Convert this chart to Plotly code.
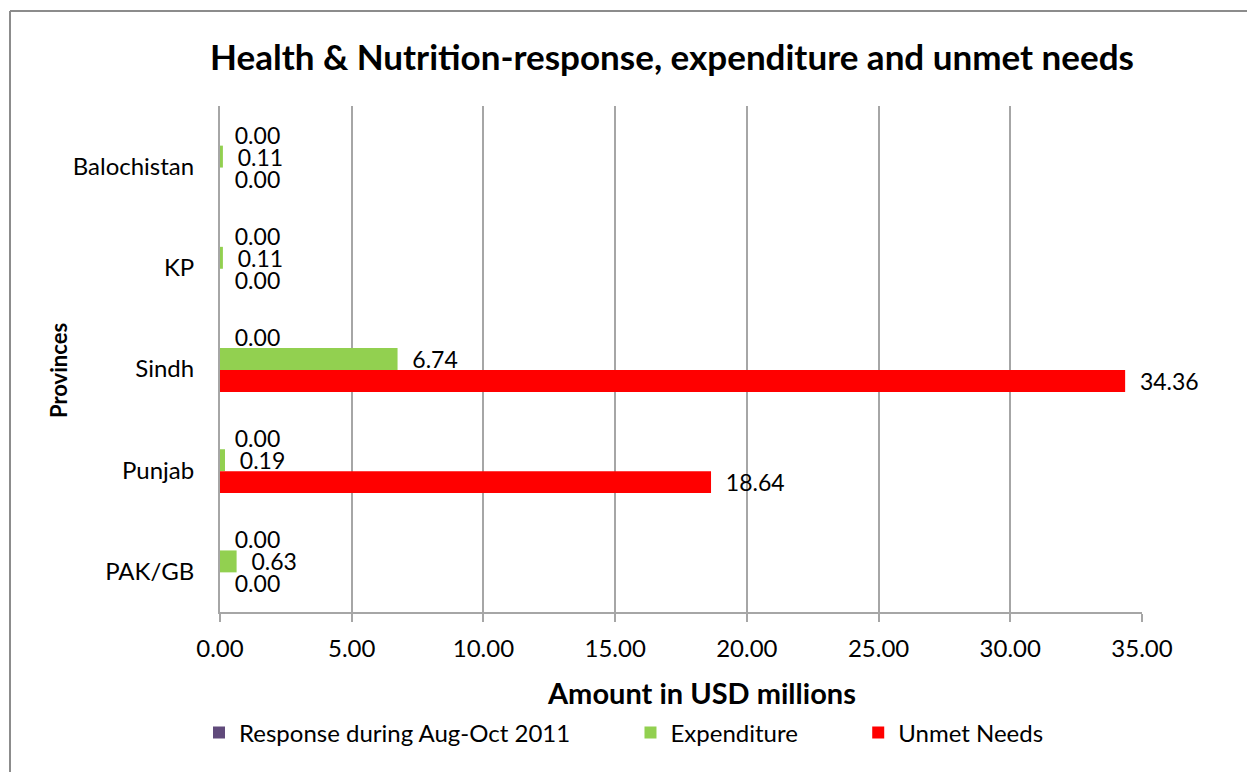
import plotly.graph_objects as go

# ---- data ----
provinces = ["Balochistan", "KP", "Sindh", "Punjab", "PAK/GB"]
response = [0.00, 0.00, 0.00, 0.00, 0.00]
expenditure = [0.11, 0.11, 6.74, 0.19, 0.63]
unmet_needs = [0.00, 0.00, 34.36, 18.64, 0.00]
series_names = ["Response during Aug-Oct 2011", "Expenditure", "Unmet Needs"]
series_colors = ["#604A7B", "#92D050", "#FF0000"]
x_ticks = [0, 5, 10, 15, 20, 25, 30, 35]

W, H = 1247, 772
L, R, T, B = 220, 105, 106, 160
PW, PH = W - L - R, H - T - B


def px(x):
    return (x - L) / PW


def py(y):
    return (H - B - y) / PH


TEXT_FONT = "Lato, 'Open Sans', sans-serif"
PAD = "\u00a0" * 9
LEAD = "\u00a0\u00a0"

fig = go.Figure()
for name, vals, col in zip(series_names, [response, expenditure, unmet_needs], series_colors):
    fig.add_trace(go.Bar(
        y=provinces, x=vals, orientation="h", name=name + PAD,
        marker=dict(color=col, line=dict(width=0)),
        text=[LEAD + f"{v:.2f}" for v in vals], textposition="outside",
        textfont=dict(family=TEXT_FONT, size=23, color="#000000"),
        constraintext="none", cliponaxis=False, textangle=0,
    ))

fig.update_layout(
    width=W, height=H, autosize=False,
    margin=dict(l=L, r=R, t=T, b=B),
    paper_bgcolor="white", plot_bgcolor="white",
    barmode="group", bargap=0.35, bargroupgap=0,
    font=dict(family=TEXT_FONT, color="#000000"),
    title=dict(text="<b>Health & Nutrition-response, expenditure and unmet needs</b>",
               font=dict(family=TEXT_FONT, size=35, color="#000000"),
               x=px(672), xref="paper", xanchor="center",
               y=1 - 58 / H, yref="container", yanchor="middle"),
    xaxis=dict(range=[0, 35], tickvals=x_ticks, tickformat=".2f",
               showgrid=True, gridcolor="#A6A6A6", gridwidth=2,
               showline=True, linecolor="#A6A6A6", linewidth=2,
               ticks="outside", ticklen=8, tickwidth=2, tickcolor="#A6A6A6",
               tickfont=dict(family=TEXT_FONT, size=24, color="#000000"),
               ticklabelstandoff=6, zeroline=False, fixedrange=True),
    yaxis=dict(type="category", autorange="reversed",
               showgrid=False, showline=True, linecolor="#A6A6A6", linewidth=2,
               ticks="", tickfont=dict(family=TEXT_FONT, size=24, color="#000000"),
               ticklabelstandoff=19, ticklabelshift=-10, zeroline=False, fixedrange=True),
    legend=dict(orientation="h", x=px(199), xanchor="left", y=py(733), yanchor="middle",
                font=dict(family=TEXT_FONT, size=24, color="#000000"),
                bgcolor="rgba(0,0,0,0)", itemclick=False, itemdoubleclick=False),
    showlegend=True,
)

fig.add_annotation(text="<b>Amount in USD millions</b>", x=px(701), y=py(692),
                   xanchor="center", yanchor="middle",
                   xref="paper", yref="paper", showarrow=False,
                   font=dict(family=TEXT_FONT, size=29, color="#000000"))
fig.add_annotation(text="<b>Provinces</b>", x=px(58), y=py(371), textangle=-90,
                   xanchor="center", yanchor="middle",
                   xref="paper", yref="paper", showarrow=False,
                   font=dict(family=TEXT_FONT, size=22, color="#000000"))
fig.add_annotation(text="out.", x=px(8), y=py(4), xanchor="left", yanchor="bottom",
                   xref="paper", yref="paper", showarrow=False,
                   font=dict(family=TEXT_FONT, size=20, color="#000000"))

# outer frame (partially visible)
fig.add_shape(type="line", xref="paper", yref="paper", x0=px(10), x1=px(W + 5), y0=py(11), y1=py(11),
              line=dict(color="#8C8C8C", width=2))
fig.add_shape(type="line", xref="paper", yref="paper", x0=px(10), x1=px(10), y0=py(11), y1=py(H + 5),
              line=dict(color="#8C8C8C", width=2))

fig.write_html("out.html", config={"displayModeBar": False},
               post_script="document.body.style.margin='0';")
